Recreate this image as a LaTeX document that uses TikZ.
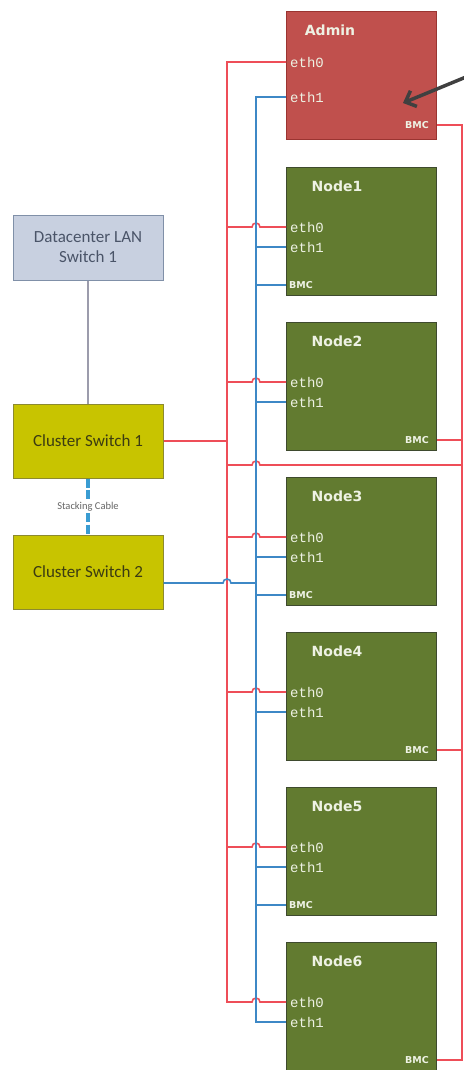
\documentclass[tikz,border=0pt]{standalone}
\usepackage{fontspec}
\setmainfont{DejaVu Sans}
\newfontfamily\portfont{Liberation Mono}
\newfontfamily\switchfont{Carlito}
\usetikzlibrary{arrows.meta}

\definecolor{adminred}{HTML}{C0504D}
\definecolor{adminedge}{HTML}{9A3431}
\definecolor{nodegreen}{HTML}{627B30}
\definecolor{nodeedge}{HTML}{3E4A2E}
\definecolor{switchyellow}{HTML}{C8C400}
\definecolor{switchedge}{HTML}{8C8A30}
\definecolor{switchtext}{HTML}{3C3C12}
\definecolor{lanblue}{HTML}{C8D0E0}
\definecolor{lanedge}{HTML}{8090A8}
\definecolor{lantext}{HTML}{4A5468}
\definecolor{redwire}{HTML}{EE4E58}
\definecolor{bluewire}{HTML}{3D88C6}
\definecolor{stackblue}{HTML}{3A9CD2}
\definecolor{graywire}{HTML}{9C9CAC}
\definecolor{labelwhite}{HTML}{EEF2E4}
\definecolor{pointergray}{HTML}{404040}

\begin{document}
\begin{tikzpicture}[x=1pt,y=-1pt,
  hostbox/.style={draw=#1, line width=1pt, minimum width=150pt, minimum height=128pt,
    inner sep=0pt, anchor=north west},
  hosttitle/.style={font=\bfseries\fontsize{14}{16}\selectfont, text=labelwhite, inner sep=0pt},
  portlabel/.style={font=\portfont\fontsize{14}{15}\selectfont, text=labelwhite, anchor=west, inner sep=0pt},
  bmclabel/.style={font=\bfseries\fontsize{9.5}{10}\selectfont, text=labelwhite, inner sep=0pt},
  switchbox/.style={draw=switchedge, fill=switchyellow, line width=1pt, minimum width=150pt,
    minimum height=74pt, inner sep=0pt, text=switchtext,
    font=\switchfont\fontsize{17}{19}\selectfont},
  lanbox/.style={draw=lanedge, fill=lanblue, line width=1pt, minimum width=150pt,
    minimum height=65pt, inner sep=0pt, text=lantext, align=center,
    font=\switchfont\fontsize{17}{20}\selectfont},
  redln/.style={draw=redwire, line width=1.6pt},
  blueln/.style={draw=bluewire, line width=1.6pt},
  grayln/.style={draw=graywire, line width=1.8pt},
  stackln/.style={draw=stackblue, line width=3.2pt, dash pattern=on 9pt off 2.5pt},
  pointer/.style={draw=pointergray, line width=3.5pt, -{Straight Barb[length=9pt,width=17pt]}},
]
\useasboundingbox (0,0) rectangle (463,1070);
\fill[white] (0,0) rectangle (463,1070);

% bus lines
\coordinate (redbus) at (227,0);
\coordinate (bluebus) at (256,0);
\coordinate (rightbus) at (462,0);
\coordinate (crosslink) at (0,465);

% admin host
\node[hostbox=adminedge, fill=adminred] (admin) at (286,11) {};
\node[hosttitle] (admin-t) at (330,30) {Admin};
\node[portlabel] (admin-e0) at (290,62) {eth0};
\node[portlabel] (admin-e1) at (290,97) {eth1};
\node[bmclabel, anchor=east] (admin-b) at (429,125) {BMC};

% compute hosts
\foreach \i/\t/\bx/\ba in {1/167/289/west, 2/322/429/east, 3/477/289/west,
                            4/632/429/east, 5/787/289/west, 6/942/429/east}{
  \node[hostbox=nodeedge, fill=nodegreen] (n\i) at (286,\t) {};
  \node[hosttitle] (n\i-t) at (337,\t+19) {Node\i};
  \node[portlabel] (n\i-e0) at (290,\t+60) {eth0};
  \node[portlabel] (n\i-e1) at (290,\t+80) {eth1};
  \node[bmclabel, anchor=\ba] (n\i-b) at (\bx,\t+118) {BMC};
}

% switches
\node[lanbox] (lan) at (88,247.5) {Datacenter LAN\\Switch 1};
\node[switchbox] (cs1) at (88,441) {Cluster Switch 1};
\node[switchbox] (cs2) at (88,572) {Cluster Switch 2};
\coordinate (cs2port) at ([yshift=-11pt]cs2.east);

\draw[grayln] (lan) -- (cs1);
\draw[stackln] (cs1) -- node[fill=white, inner sep=1pt, text=black!60,
  font=\switchfont\fontsize{10.5}{12}\selectfont] (stack-l) {Stacking Cable} (cs2);

% eth0 network (red)
\draw[redln] (cs1.east) -- (cs1.east -| redbus);
\draw[redln] (admin.west |- admin-e0) -- (admin-e0 -| redbus) -- (n6-e0 -| redbus)
  -- ([xshift=-4pt]n6-e0 -| bluebus) arc[start angle=180, end angle=0, radius=4pt]
  -- (n6.west |- n6-e0);
\foreach \i in {1,...,5}{
  \draw[redln] (n\i-e0 -| redbus) -- ([xshift=-4pt]n\i-e0 -| bluebus)
    arc[start angle=180, end angle=0, radius=4pt] -- (n\i.west |- n\i-e0);
}
\draw[redln] (crosslink -| redbus) -- ([xshift=-4pt]crosslink -| bluebus)
  arc[start angle=180, end angle=0, radius=4pt] -- (crosslink -| rightbus);

% BMC links on the right
\draw[redln] (admin.east |- admin-b) -- (admin-b -| rightbus) -- (n6-b -| rightbus)
  -- (n6.east |- n6-b);
\foreach \i in {2,4}{
  \draw[redln] (n\i.east |- n\i-b) -- (n\i-b -| rightbus);
}

% eth1 network (blue)
\draw[blueln] (cs2port) -- ([xshift=-4pt]cs2port -| redbus)
  arc[start angle=180, end angle=0, radius=4pt] -- (cs2port -| bluebus);
\draw[blueln] (admin.west |- admin-e1) -- (admin-e1 -| bluebus) -- (n6-e1 -| bluebus)
  -- (n6.west |- n6-e1);
\foreach \i in {1,...,5}{
  \draw[blueln] (n\i-e1 -| bluebus) -- (n\i.west |- n\i-e1);
}
\foreach \i in {1,3,5}{
  \draw[blueln] (n\i-b -| bluebus) -- (n\i.west |- n\i-b);
}

% pointer to the admin host
\coordinate (ptr-tail) at (466,77);
\coordinate (ptr-tip) at (403,103);
\draw[pointer] (ptr-tail) -- (ptr-tip);
\end{tikzpicture}
\end{document}
